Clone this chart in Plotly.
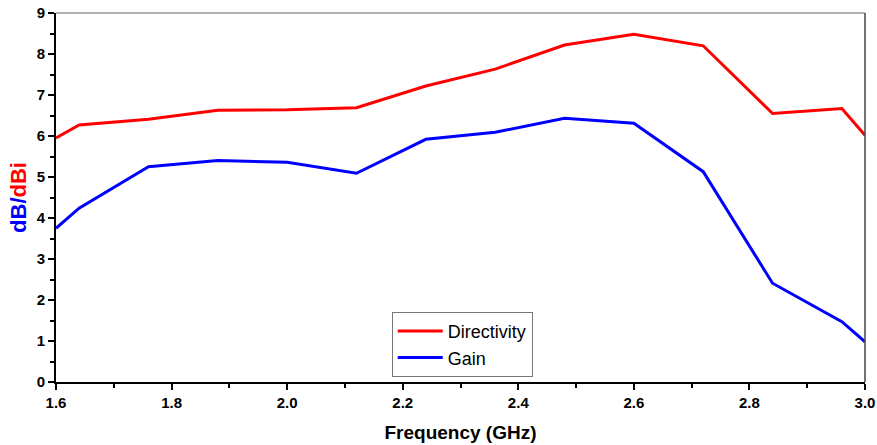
import plotly.graph_objects as go

freq = [1.60, 1.64, 1.76, 1.88, 2.00, 2.12, 2.24, 2.36, 2.48, 2.60, 2.72, 2.84, 2.96, 3.00]
directivity = [5.95, 6.27, 6.41, 6.63, 6.64, 6.69, 7.22, 7.63, 8.22, 8.48, 8.20, 6.55, 6.67, 6.02]
gain = [3.75, 4.24, 5.25, 5.40, 5.36, 5.09, 5.92, 6.09, 6.43, 6.31, 5.13, 2.41, 1.47, 0.98]

x_ticks = [1.6, 1.8, 2.0, 2.2, 2.4, 2.6, 2.8, 3.0]
x_ticktext = ["1.6", "1.8", "2.0", "2.2", "2.4", "2.6", "2.8", "3.0"]
y_ticks = [0, 1, 2, 3, 4, 5, 6, 7, 8, 9]

font = "Liberation Sans, Arial, sans-serif"

fig = go.Figure()
fig.add_trace(go.Scatter(x=freq, y=directivity, mode="lines", name="Directivity",
                         line=dict(color="#FF0000", width=3)))
fig.add_trace(go.Scatter(x=freq, y=gain, mode="lines", name="Gain",
                         line=dict(color="#0000FF", width=3)))

fig.update_layout(
    width=877, height=445,
    margin=dict(l=56, r=12, t=13, b=63),
    plot_bgcolor="white", paper_bgcolor="white",
    font=dict(family=font, color="black"),
    showlegend=True,
    legend=dict(x=0.415, y=0.19, xanchor="left", yanchor="top",
                bordercolor="#777777", borderwidth=1, bgcolor="white",
                font=dict(size=18, family=font), itemwidth=45,
                tracegroupgap=0),
    xaxis=dict(range=[1.6, 3.0], tickvals=x_ticks, ticktext=x_ticktext,
               automargin=False,
               ticks="outside", ticklen=6, tickwidth=2, tickcolor="black",
               showline=True, linecolor="black", linewidth=2,
               showgrid=False, zeroline=False,
               tickfont=dict(size=15, family=font, weight="bold"),
               minor=dict(dtick=0.1, ticks="outside", ticklen=4, tickwidth=1.5, tickcolor="black"),
               title=dict(text="<b>Frequency (GHz)</b>", font=dict(size=19, family=font), standoff=16)),
    yaxis=dict(range=[0, 9], tickvals=y_ticks,
               automargin=False,
               ticks="outside", ticklen=6, tickwidth=2, tickcolor="black",
               showline=True, linecolor="black", linewidth=2,
               showgrid=False, zeroline=False,
               tickfont=dict(size=15, family=font, weight="bold"),
               minor=dict(dtick=0.5, ticks="outside", ticklen=4, tickwidth=1.5, tickcolor="black"),
               title=dict(text="<b><span style='color:#0000FF'>dB/</span><span style='color:#FF0000'>dBi</span></b>",
                          font=dict(size=22, family=font), standoff=4)),
)

fig.add_shape(type="line", xref="paper", yref="paper", x0=0, x1=1, y0=1, y1=1,
              line=dict(color="#999999", width=1.5))
fig.add_shape(type="line", xref="paper", yref="paper", x0=1, x1=1, y0=0, y1=1,
              line=dict(color="#444444", width=1.5))

fig.write_html("out.html")
